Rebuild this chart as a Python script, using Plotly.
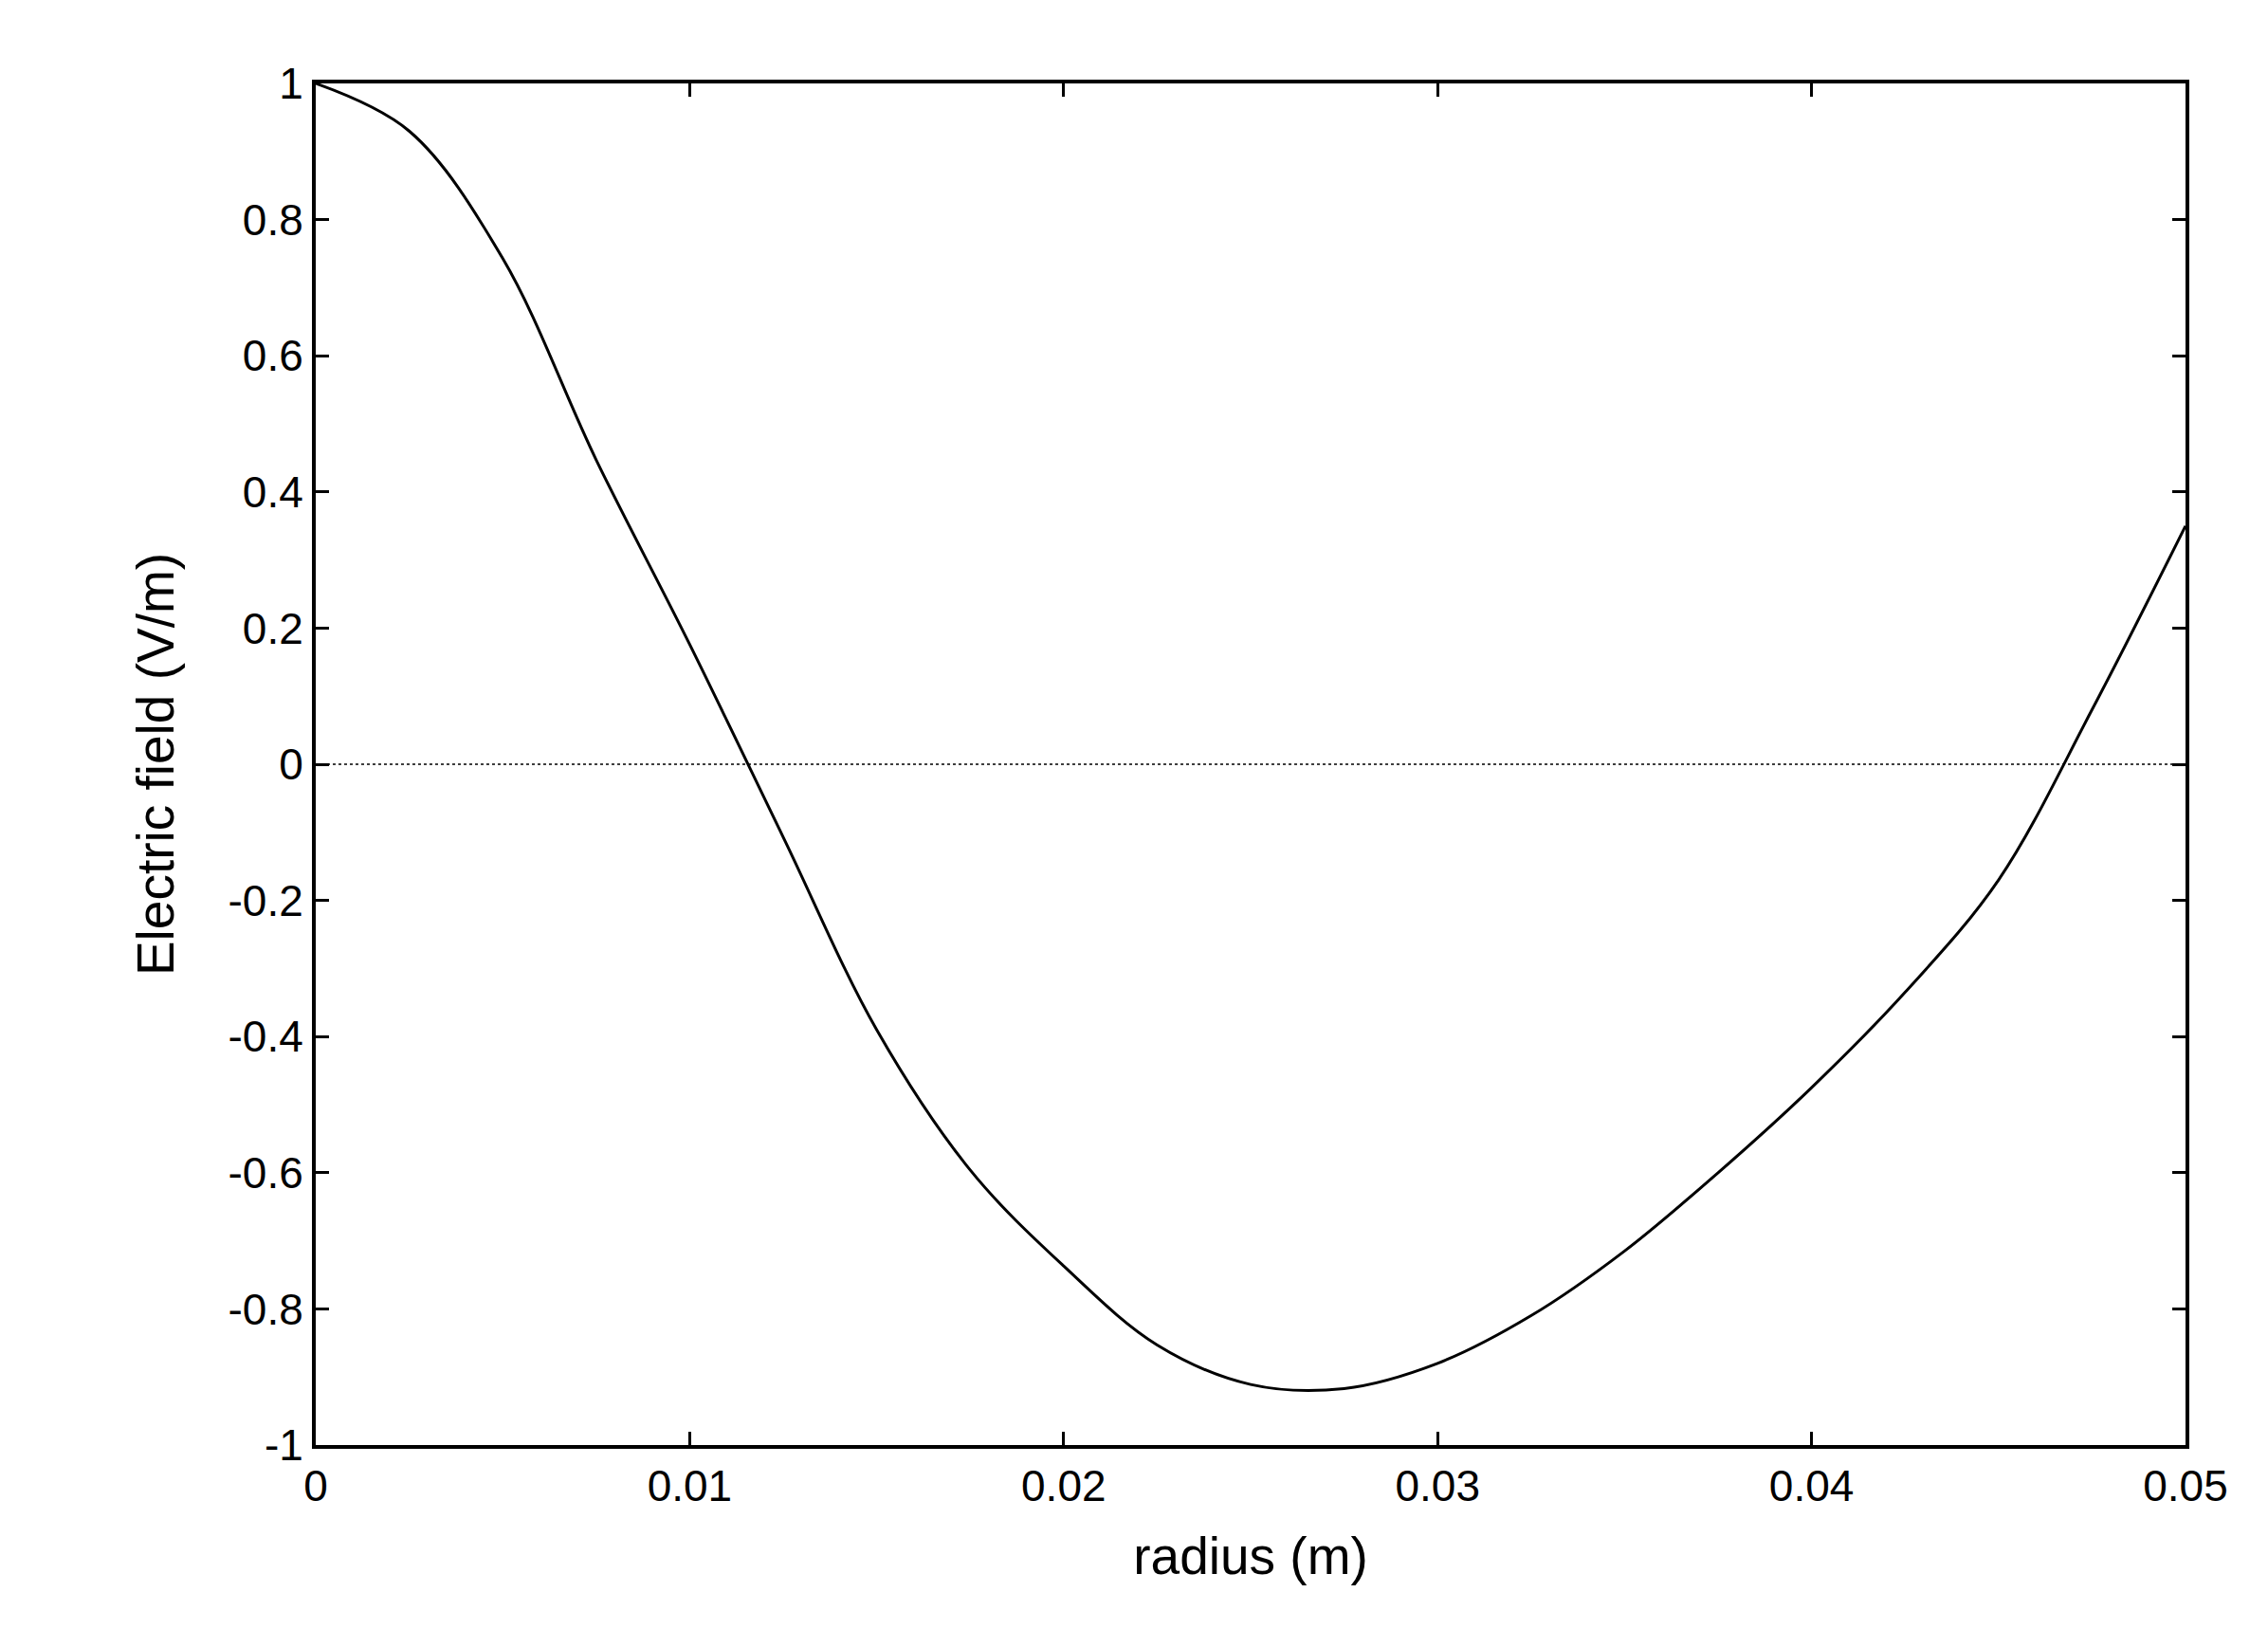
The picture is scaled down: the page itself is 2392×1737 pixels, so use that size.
import plotly.graph_objects as go

radius = [0, 0.0025, 0.005, 0.0075, 0.01, 0.0125, 0.015, 0.0175, 0.02, 0.0225, 0.025,
          0.0275, 0.03, 0.0325, 0.035, 0.0375, 0.04, 0.0425, 0.045, 0.0475, 0.05]
field = [1.0, 0.93, 0.743, 0.447, 0.176, -0.107, -0.39, -0.596, -0.737, -0.853, -0.911,
         -0.917, -0.88, -0.81, -0.715, -0.60, -0.475, -0.335, -0.17, 0.08, 0.35]

xticks = [0, 0.01, 0.02, 0.03, 0.04, 0.05]
xlabels = ["0", "0.01", "0.02", "0.03", "0.04", "0.05"]
yticks = [-1, -0.8, -0.6, -0.4, -0.2, 0, 0.2, 0.4, 0.6, 0.8, 1]
ylabels = ["-1", "-0.8", "-0.6", "-0.4", "-0.2", "0", "0.2", "0.4", "0.6", "0.8", "1"]

fig = go.Figure()
fig.add_trace(go.Scatter(x=[0, 0.05], y=[0, 0], mode="lines",
                         line=dict(color="black", width=1.5, dash="dot"), hoverinfo="skip"))
fig.add_trace(go.Scatter(x=radius, y=field, mode="lines",
                         line=dict(color="black", width=3, shape="spline", smoothing=1.0)))
ax = dict(showline=True, mirror="ticks", linecolor="black", linewidth=4, ticks="inside",
          ticklen=14, tickwidth=3, tickcolor="black", showgrid=False, zeroline=False)
fig.update_layout(
    width=2392, height=1737, plot_bgcolor="white", paper_bgcolor="white", showlegend=False,
    margin=dict(l=325, r=95, t=80, b=221),
    font=dict(family="Liberation Sans, Arial", size=46, color="black"),
    xaxis=dict(range=[0, 0.05], tickvals=xticks, ticktext=xlabels,
               title=dict(text="radius (m)", standoff=30), **ax),
    yaxis=dict(range=[-1, 1], tickvals=yticks, ticktext=ylabels,
               title=dict(text="Electric field (V/m)", standoff=40), **ax),
)
fig.write_html("out.html")
